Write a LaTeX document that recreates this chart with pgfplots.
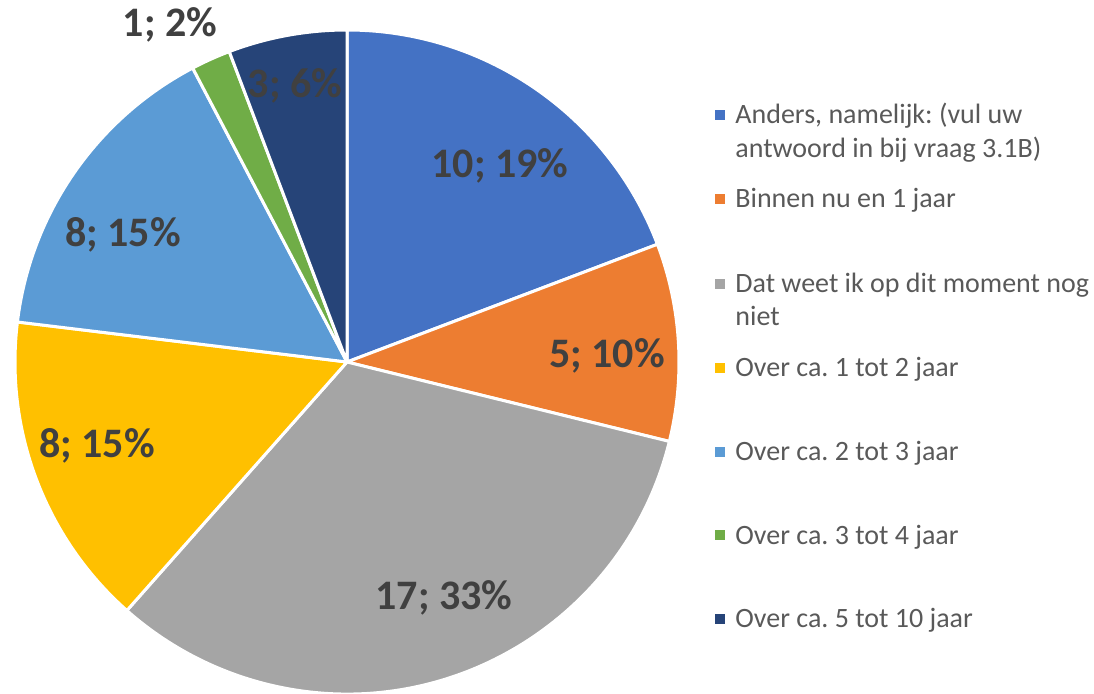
\documentclass[border=0pt]{standalone}
\usepackage{pgfplots}
\pgfplotsset{compat=1.18}
\usepackage{pgfplotstable}
\usepackage{fontspec}
\setmainfont{Carlito}
\frenchspacing
\definecolor{c0}{HTML}{4472C4}
\definecolor{c1}{HTML}{ED7D31}
\definecolor{c2}{HTML}{A5A5A5}
\definecolor{c3}{HTML}{FFC000}
\definecolor{c4}{HTML}{5B9BD5}
\definecolor{c5}{HTML}{70AD47}
\definecolor{c6}{HTML}{264478}
\definecolor{lbl}{HTML}{404040}
\definecolor{leg}{HTML}{595959}

\pgfplotstableread{
value
10
5
17
8
8
1
3
}\piedata

\pgfplotstablegetrowsof{\piedata}
\pgfmathtruncatemacro\nrows{\pgfplotsretval-1}
\gdef\total{0}
\foreach \i in {0,...,\nrows}{%
  \pgfplotstablegetelem{\i}{value}\of\piedata
  \pgfmathparse{\total+\pgfplotsretval}\xdef\total{\pgfmathresult}%
}
\gdef\cum{0}
\foreach \i in {0,...,\nrows}{%
  \pgfplotstablegetelem{\i}{value}\of\piedata
  \let\myv\pgfplotsretval
  \pgfmathparse{90-360*(\cum/\total)}\expandafter\xdef\csname sa\i\endcsname{\pgfmathresult}%
  \pgfmathparse{\cum+\myv}\xdef\cum{\pgfmathresult}%
  \pgfmathparse{90-360*(\cum/\total)}\expandafter\xdef\csname ea\i\endcsname{\pgfmathresult}%
}

\begin{document}
\begin{tikzpicture}
\begin{axis}[hide axis, x=0.5pt, y=0.5pt, xmin=0, xmax=1094, ymin=0, ymax=693,
  clip=false, scale only axis]
\pgfplotsinvokeforeach{0,...,6}{%
  \edef\tmp{\noexpand\fill[c#1, draw=white, line width=1.5pt, line join=round]
    (axis cs:347,331) -- ++(\csname sa#1\endcsname:166pt)
    arc[start angle=\csname sa#1\endcsname, end angle=\csname ea#1\endcsname, radius=166pt] -- cycle;}%
  \tmp
}
% data labels
\tikzset{dl/.style={anchor=base, text=lbl, font=\bfseries\fontsize{21}{25}\selectfont, inner sep=0pt}}
\node[dl] at (axis cs:500,516) {10; 19\%};
\node[dl] at (axis cs:607,326) {5; 10\%};
\node[dl] at (axis cs:444,84) {17; 33\%};
\node[dl] at (axis cs:97,236) {8; 15\%};
\node[dl] at (axis cs:123,447) {8; 15\%};
\node[dl] at (axis cs:170,657) {1; 2\%};
\node[dl] at (axis cs:295,596) {3; 6\%};
% legend
\tikzset{lg/.style={anchor=base west, text=leg, font=\fontsize{14}{17}\selectfont, inner sep=0pt}}
\fill[c0] (axis cs:715,573) rectangle (axis cs:725,583);
\fill[c1] (axis cs:715,489) rectangle (axis cs:725,499);
\fill[c2] (axis cs:715,404) rectangle (axis cs:725,414);
\fill[c3] (axis cs:715,320) rectangle (axis cs:725,330);
\fill[c4] (axis cs:715,236) rectangle (axis cs:725,246);
\fill[c5] (axis cs:715,153) rectangle (axis cs:725,163);
\fill[c6] (axis cs:715,69) rectangle (axis cs:725,79);
\node[lg] at (axis cs:735,570) {Anders, namelijk: (vul uw};
\node[lg] at (axis cs:735,536) {antwoord in bij vraag 3.1B)};
\node[lg] at (axis cs:735,486) {Binnen nu en 1 jaar};
\node[lg] at (axis cs:735,401) {Dat weet ik op dit moment nog};
\node[lg] at (axis cs:735,368) {niet};
\node[lg] at (axis cs:735,317) {Over ca. 1 tot 2 jaar};
\node[lg] at (axis cs:735,233) {Over ca. 2 tot 3 jaar};
\node[lg] at (axis cs:735,149) {Over ca. 3 tot 4 jaar};
\node[lg] at (axis cs:735,66) {Over ca. 5 tot 10 jaar};
\end{axis}
\pgfresetboundingbox
\path (current axis.south west) rectangle (current axis.north east);
\end{tikzpicture}
\end{document}
